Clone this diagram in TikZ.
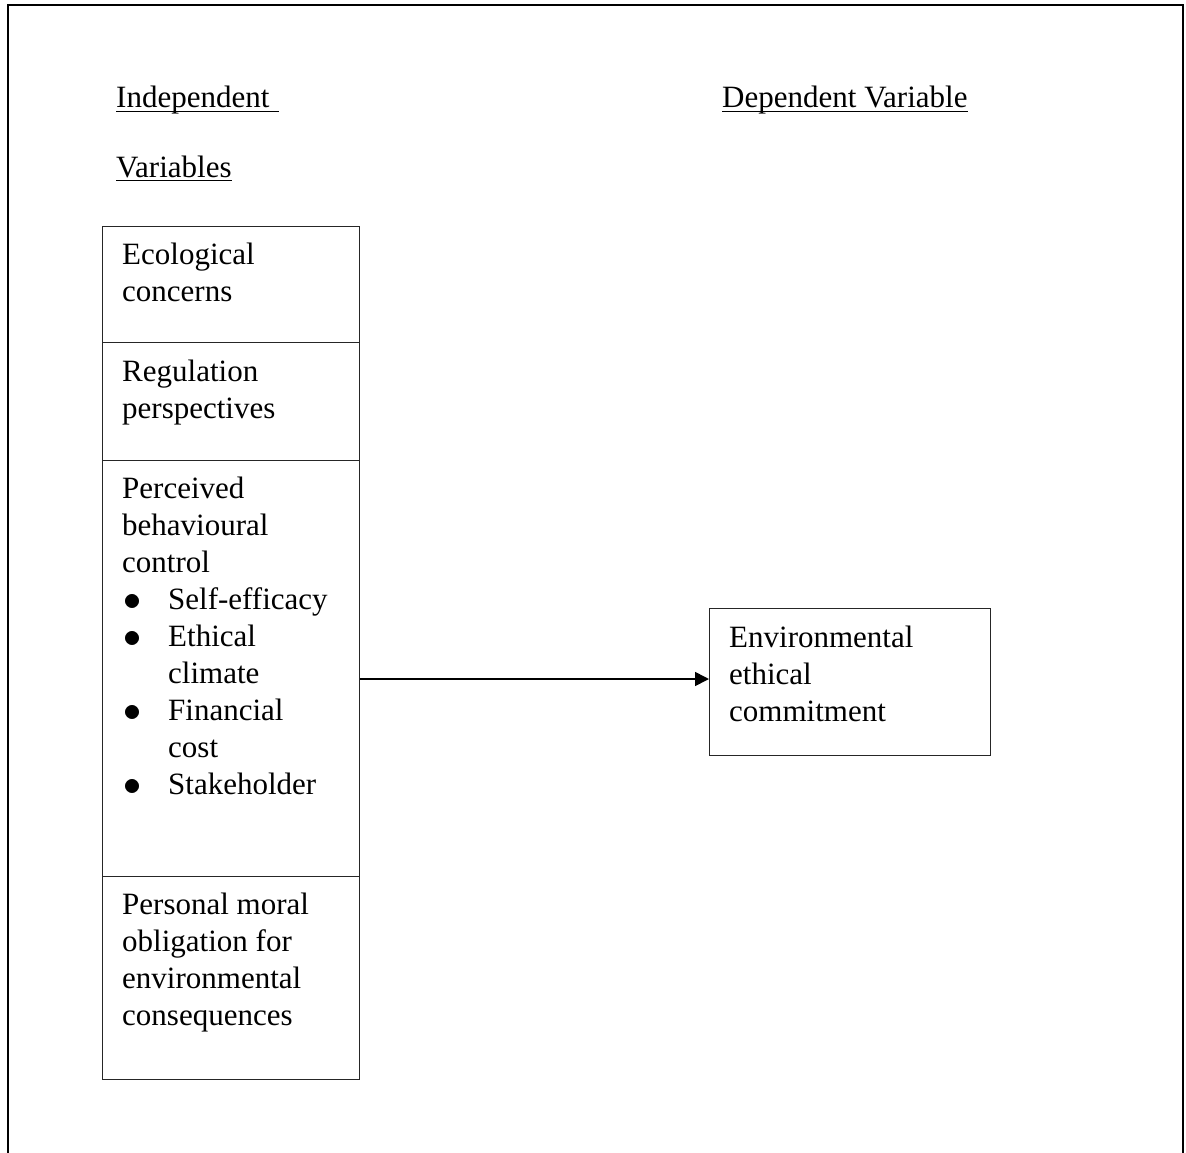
\documentclass[tikz,border=0pt]{standalone}
\usepackage{fontspec}
\setmainfont{Liberation Serif}
\usetikzlibrary{arrows.meta}
\newcommand{\blt}{\makebox[46pt][l]{\hspace{1pt}\smash{\raisebox{-1.5pt}{\scalebox{1.45}{$\bullet$}}}}}
\newcommand{\bind}{\hspace*{46pt}}
\begin{document}
\begin{tikzpicture}[x=1pt,y=-1pt,
  box/.style={draw=black!85, line width=1pt, inner sep=0pt, anchor=north west},
  txt/.style={inner sep=0pt, anchor=base west, font=\fontsize{31}{37}\selectfont},
  head/.style={inner sep=0pt, anchor=base west, font=\fontsize{31}{37}\selectfont},
  uline/.style={line width=1.6pt},
  frame/.style={line width=2pt},
  arr/.style={line width=1.6pt, -{Triangle[length=14pt,width=14pt]}}]
\useasboundingbox (0,0) rectangle (1186,1153);
% outer frame (open at bottom)
\draw[frame] (8,1160) -- (8,5) -- (1183,5) -- (1183,1160);
% headings
\node[head] (ind) at (116,108) {Independent\hspace*{9pt}};
\node[head] (var) at (116,177) {Variables};
\node[head] (dep) at (722,108) {Dependent Variable};
\draw[uline] ([yshift=-3.5pt]ind.base west) -- ([yshift=-3.5pt]ind.base east);
\draw[uline] ([yshift=-3.5pt]var.base west) -- ([yshift=-3.5pt]var.base east);
\draw[uline] ([yshift=-3.5pt]dep.base west) -- ([yshift=-3.5pt]dep.base east);
% left boxes
\node[box, minimum width=257pt, minimum height=116pt] (b1) at (102,226) {};
\node[box, minimum width=257pt, minimum height=118pt] (b2) at (102,342) {};
\node[box, minimum width=257pt, minimum height=416pt] (b3) at (102,460) {};
\node[box, minimum width=257pt, minimum height=203pt] (b4) at (102,876) {};
\node[txt] (t1) at (122,264) {\parbox[t]{230pt}{Ecological\\concerns}};
\node[txt] (t2) at (122,381) {\parbox[t]{230pt}{Regulation\\perspectives}};
\node[txt] (t3) at (122,498) {\parbox[t]{235pt}{Perceived\\behavioural\\control\\
\blt Self-efficacy\\\blt Ethical\\\bind climate\\\blt Financial\\\bind cost\\\blt Stakeholder}};
\node[txt] (t4) at (122,914) {\parbox[t]{235pt}{Personal moral\\obligation for\\environmental\\consequences}};
% right box
\node[box, minimum width=281pt, minimum height=147pt] (dv) at (709,608) {};
\node[txt] (t5) at (729,647) {\parbox[t]{250pt}{Environmental\\ethical\\commitment}};
% arrow
\coordinate (ay) at (0,679);
\draw[arr] (b3.east |- ay) -- (dv.west |- ay);
\end{tikzpicture}
\end{document}
